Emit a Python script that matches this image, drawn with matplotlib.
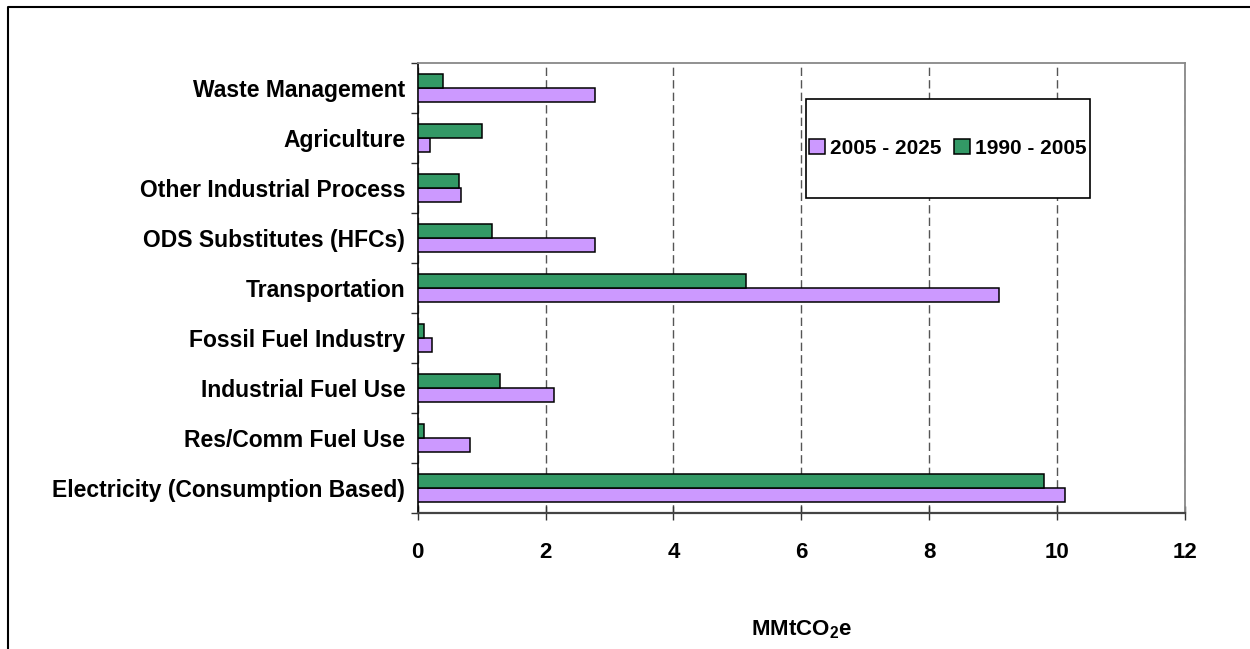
import numpy as np
import matplotlib
matplotlib.use('Agg')
from matplotlib import pyplot as plt
from matplotlib.patches import Rectangle, Patch
from matplotlib.lines import Line2D

plt.rcParams['font.family'] = ['Liberation Sans', 'DejaVu Sans']
plt.rcParams['font.weight'] = 'bold'
plt.rcParams['mathtext.fontset'] = 'custom'
plt.rcParams['mathtext.bf'] = 'Liberation Sans:bold'
plt.rcParams['mathtext.rm'] = 'Liberation Sans:bold'

# sectors, bottom to top
sectors = ['Electricity (Consumption Based)', 'Res/Comm Fuel Use', 'Industrial Fuel Use',
           'Fossil Fuel Industry', 'Transportation', 'ODS Substitutes (HFCs)',
           'Other Industrial Process', 'Agriculture', 'Waste Management']
growth_2005_2025 = [10.13, 0.82, 2.13, 0.22, 9.09, 2.77, 0.67, 0.20, 2.77]
growth_1990_2005 = [9.79, 0.10, 1.29, 0.10, 5.13, 1.16, 0.65, 1.00, 0.40]
x_ticks = [0, 2, 4, 6, 8, 10, 12]

W, H = 1250, 649
fig = plt.figure(figsize=(12.5, 6.49), dpi=100)
ax = fig.add_axes([417.7 / W, 1 - 513 / H, (1185 - 417.7) / W, (513 - 62.7) / H])

y = np.arange(len(sectors))
bh = 0.28
purple = '#CC99FF'
green = '#339966'
ax.barh(y - bh / 2, growth_2005_2025, height=bh, color=purple, edgecolor='black', linewidth=1.1, zorder=3)
ax.barh(y + bh / 2, growth_1990_2005, height=bh, color=green, edgecolor='black', linewidth=1.1, zorder=3)

ax.set_xlim(0, 12)
ax.set_ylim(-0.5, len(sectors) - 0.5)
ax.set_xticks(x_ticks)
ax.set_xticklabels([str(v) for v in x_ticks], fontsize=16, fontweight='bold')
ax.set_yticks(np.arange(len(sectors) + 1) - 0.5)
ax.set_yticklabels([])
ax.set_yticks(y, minor=True)
ax.set_yticklabels(sectors, minor=True, fontsize=16.5, fontweight='bold')
ax.tick_params(axis='y', which='minor', length=0, pad=9)
ax.tick_params(axis='y', which='major', direction='out', length=5, width=1, color='#333333')
ax.tick_params(axis='x', direction='inout', length=10, width=1, color='#333333', pad=16)

ax.grid(axis='x', linestyle=(0, (6, 3)), color='#555555', linewidth=1, zorder=1)
ax.spines['left'].set_color('black')
ax.spines['left'].set_linewidth(1.2)
ax.spines['bottom'].set_color('#444444')
ax.spines['bottom'].set_linewidth(1.6)
for s in ['top', 'right']:
    ax.spines[s].set_color('#888888')
    ax.spines[s].set_linewidth(1.3)

ax.set_xlabel(r'MMtCO$_\mathbf{2}$e', fontsize=16, fontweight='bold', labelpad=40)

# legend box
bx0, by0, bx1, by1 = 805.7, 98.7, 1089.7, 198.3
box = Rectangle((bx0 / W, 1 - by1 / H), (bx1 - bx0) / W, (by1 - by0) / H,
                transform=fig.transFigure, facecolor='white', edgecolor='black',
                linewidth=1.2, zorder=5)
ax.add_patch(box)
box.set_clip_on(False)
handles = [Patch(facecolor=purple, edgecolor='black', linewidth=1.1),
           Patch(facecolor=green, edgecolor='black', linewidth=1.1)]
leg = ax.legend(handles, ['2005 - 2025', '1990 - 2005'], ncol=2, frameon=False,
                loc='center', bbox_to_anchor=((bx0 + bx1) / 2 / W, 1 - (by0 + by1) / 2 / H),
                bbox_transform=fig.transFigure, prop={'size': 15, 'weight': 'bold'},
                handlelength=0.75, handleheight=0.7, handletextpad=0.25, columnspacing=0.6)
leg.set_zorder(6)

# outer chart frame
fig.add_artist(Line2D([8 / W, 8 / W, 1.01], [-0.01, 1 - 7 / H, 1 - 7 / H],
                      transform=fig.transFigure, color='black', linewidth=1.5))

fig.savefig('out.png', dpi=100)
